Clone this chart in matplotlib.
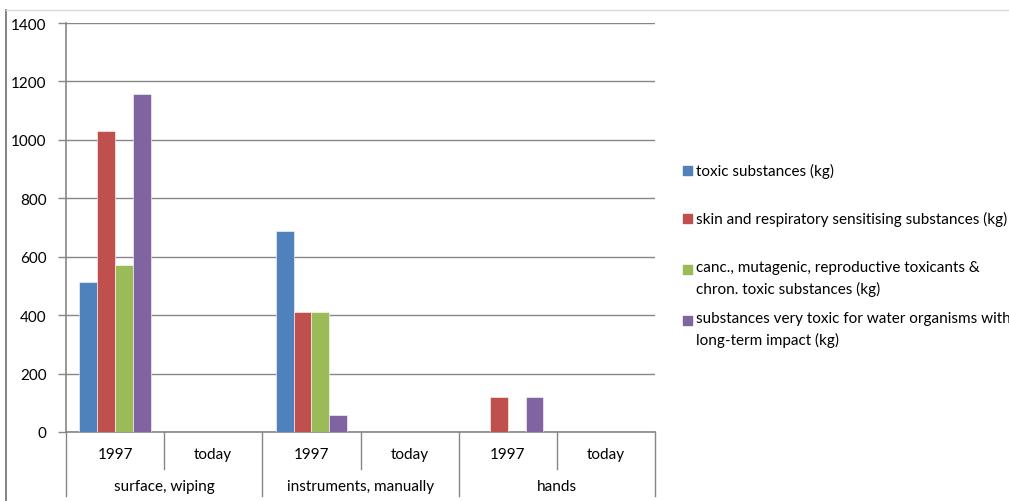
import matplotlib.pyplot as plt
from matplotlib.patches import Rectangle
from matplotlib.lines import Line2D

plt.rcParams['font.family'] = ['Lato', 'DejaVu Sans']

# data
groups = ['surface, wiping', 'instruments, manually', 'hands']
periods = ['1997', 'today']
series_names = ['toxic substances (kg)',
                'skin and respiratory sensitising substances (kg)',
                'canc., mutagenic, reproductive toxicants &\nchron. toxic substances (kg)',
                'substances very toxic for water organisms with\nlong-term impact (kg)']
colors = ['#4f81bd', '#c0504d', '#9bbb59', '#8064a2']
toxic = [515, 0, 688, 0, 0, 0]
sensitising = [1030, 0, 411, 0, 120, 0]
cmr = [572, 0, 411, 0, 0, 0]
water = [1157, 0, 58, 0, 120, 0]
values = [toxic, sensitising, cmr, water]

W, H = 1009, 502
fs = 11
fig = plt.figure(figsize=(W / 100, H / 100), dpi=100)

# plot area in pixels
x0, x1, ytop, ybot = 66, 655, 24, 433
ax = fig.add_axes([x0 / W, (H - ybot) / H, (x1 - x0) / W, (ybot - ytop) / H])

ncat = len(groups) * len(periods)
bw = 1 / (4 + 1.5)
for i, (vals, col) in enumerate(zip(values, colors)):
    xs = [c + 0.5 + (i - 1.5) * bw for c in range(ncat)]
    ax.bar(xs, vals, width=bw, color=col, edgecolor='white', linewidth=0.4, zorder=3)

ax.set_xlim(0, ncat)
ax.set_ylim(0, 1400)
ax.set_yticks(range(0, 1401, 200))
ax.tick_params(axis='y', length=6, width=1, color='#868686', labelsize=fs, pad=8)
ax.set_xticks([])
ax.grid(axis='y', color='#868686', linewidth=1, zorder=0)
for s in ['top', 'right']:
    ax.spines[s].set_visible(False)
for s in ['left', 'bottom']:
    ax.spines[s].set_color('#868686')
    ax.spines[s].set_linewidth(1.2)

# multi-level category axis
ph = ybot - ytop
tr = ax.get_xaxis_transform()
short = -37 / ph
long_ = -64 / ph
for c in range(ncat + 1):
    y_end = long_ if c % 2 == 0 else short
    ax.plot([c, c], [0, y_end], transform=tr, color='#868686', lw=1, clip_on=False)
for c in range(ncat):
    ax.text(c + 0.5, -22 / ph, periods[c % 2], transform=tr, ha='center', va='center', fontsize=fs)
for g, name in enumerate(groups):
    ax.text(2 * g + 1, -54 / ph, name, transform=tr, ha='center', va='center', fontsize=fs)

# legend, drawn by hand
leg_y = [171, 219, 270, 321]
for name, col, y in zip(series_names, colors, leg_y):
    fig.patches.append(Rectangle((683 / W, (H - y - 4.5) / H), 9 / W, 9 / H,
                                 transform=fig.transFigure, color=col))
    if '\n' in name:
        fig.text(696 / W, (H - y + 9) / H, name, ha='left', va='top',
                 fontsize=fs, linespacing=1.55)
    else:
        fig.text(696 / W, (H - y) / H, name, ha='left', va='center', fontsize=fs)

# chart border (partly cut off)
fig.add_artist(Line2D([6 / W, 6 / W], [0, (H - 11) / H], color='#6e6e6e', lw=1.2))
fig.add_artist(Line2D([6 / W, 1008 / W], [(H - 11) / H, (H - 11) / H], color='#d9d9d9', lw=1))

fig.savefig('out.png', dpi=100)
